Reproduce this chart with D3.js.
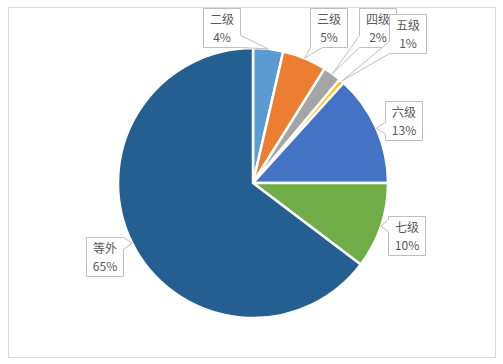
<!DOCTYPE html>
<html><head><meta charset="utf-8">
<script src="https://cdn.jsdelivr.net/npm/d3@7/dist/d3.min.js"></script>
<style>body{margin:0;background:#fff}svg{display:block}</style>
</head><body>
<script>
const categories = ["二级","三级","四级","五级","六级","七级","等外"];
const values = [3.6, 5.3, 2.2, 0.6, 13.3, 10.3, 64.7];
const percentLabels = ["4%","5%","2%","1%","13%","10%","65%"];
const colors = ["#5B9BD5","#ED7D31","#A5A5A5","#FFC000","#4472C4","#70AD47","#255E91"];

// layout of callout boxes (centre x, centre y)
const boxLayout = [[221,27.5],[328.5,27.5],[377,27.5],[407.5,33],[403.5,120],[406,235],[104.5,256]];

const W=503,H=364, cx=253, cy=183, R=135;
const svg=d3.select("body").append("svg").attr("width",W).attr("height",H);
svg.append("rect").attr("x",8.5).attr("y",7.5).attr("width",487).attr("height",350)
  .attr("fill","#fff").attr("stroke","#D9D9D9");

const pie=d3.pie().sort(null).value(d=>d)(values);
const arc=d3.arc().innerRadius(0).outerRadius(R);
const g=svg.append("g").attr("transform",`translate(${cx},${cy})`);
g.selectAll("path").data(pie).join("path").attr("d",arc)
  .attr("fill",(d,i)=>colors[i]).attr("stroke","#fff").attr("stroke-width",2.5).attr("stroke-linejoin","round");

const bw=37,bh=39;
function callout(x0,y0,x1,y1,px,py){
  const ol=x0-px, orr=px-x1, ot=y0-py, ob=py-y1;
  const m=Math.max(ol,orr,ot,ob);
  const hw=6;
  let p=[];
  if(m===orr){const c=Math.max(y0+hw,Math.min(y1-hw,py));
    p=[[x0,y0],[x1,y0],[x1,c-hw],[px,py],[x1,c+hw],[x1,y1],[x0,y1]];}
  else if(m===ol){const c=Math.max(y0+hw,Math.min(y1-hw,py));
    p=[[x0,y0],[x1,y0],[x1,y1],[x0,y1],[x0,c+hw],[px,py],[x0,c-hw]];}
  else if(m===ob){const c=Math.max(x0+hw,Math.min(x1-hw,px));
    p=[[x0,y0],[x1,y0],[x1,y1],[c+hw,y1],[px,py],[c-hw,y1],[x0,y1]];}
  else {const c=Math.max(x0+hw,Math.min(x1-hw,px));
    p=[[x0,y0],[c-hw,y0],[px,py],[c+hw,y0],[x1,y0],[x1,y1],[x0,y1]];}
  return "M"+p.map(q=>q.join(",")).join("L")+"Z";
}
const lab=svg.append("g");
pie.forEach((d,i)=>{
  const a=(d.startAngle+d.endAngle)/2;
  const px=cx+R*Math.sin(a), py=cy-R*Math.cos(a);
  const [bx,by]=boxLayout[i];
  const x0=Math.round(bx-bw/2)+0.5, y0=Math.round(by-bh/2)+0.5;
  const gg=lab.append("g");
  gg.append("path").attr("d",callout(x0,y0,x0+bw,y0+bh,px,py))
    .attr("fill","#fff").attr("stroke","#BFBFBF").attr("stroke-width",1);
  const t=gg.append("text").attr("text-anchor","middle")
    .attr("font-family","'Noto Sans CJK SC',sans-serif")
    .attr("font-size",12).attr("fill","#595959");
  t.append("tspan").attr("x",x0+bw/2).attr("y",y0+15.6).text(categories[i]);
  t.append("tspan").attr("x",x0+bw/2).attr("y",y0+33.2).text(percentLabels[i]);
});
</script>
</body></html>
